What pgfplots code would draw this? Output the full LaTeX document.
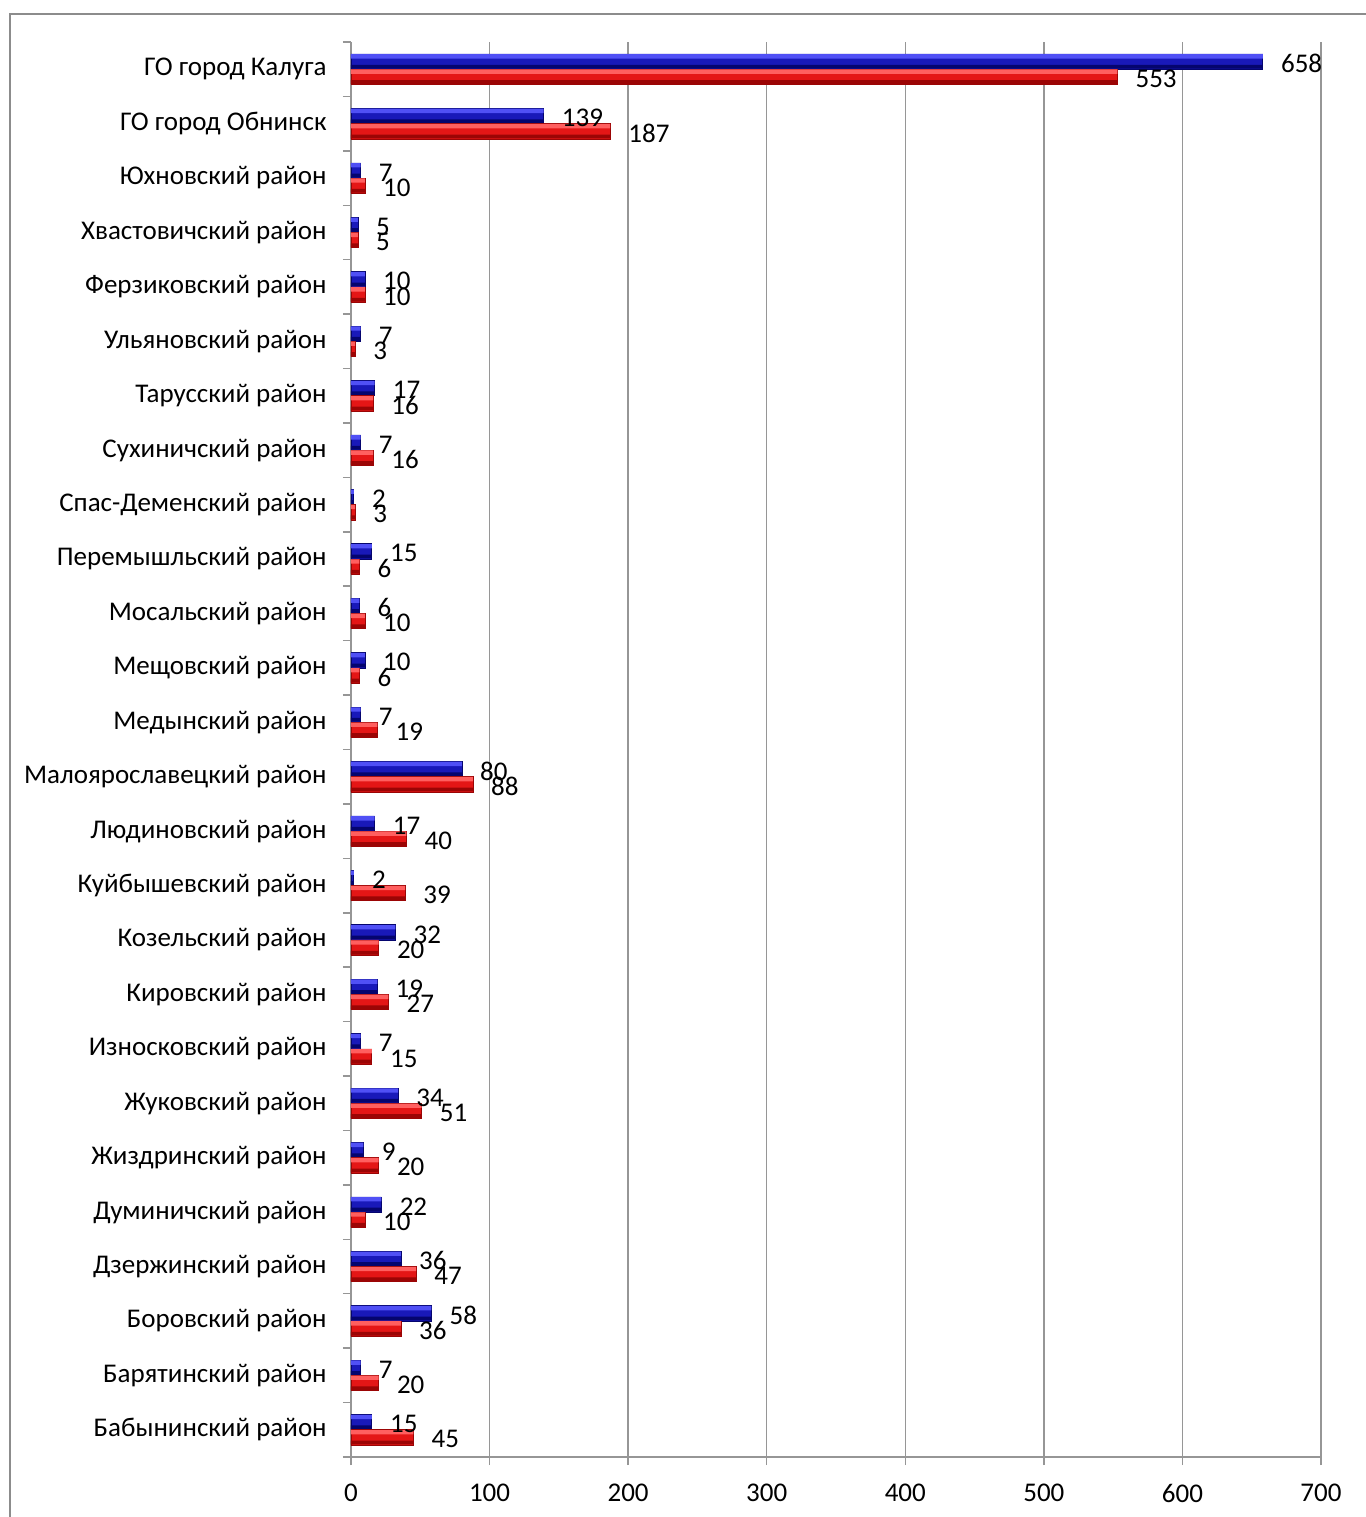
\documentclass[border=0pt]{standalone}
\usepackage{pgfplots}
\pgfplotsset{compat=1.18}
\usepackage{fontspec}
\setmainfont{Carlito}
\definecolor{gridgray}{RGB}{150,150,150}
\definecolor{frame}{RGB}{140,140,140}
\definecolor{bluetop}{RGB}{80,80,245}
\definecolor{bluemid}{RGB}{25,25,185}
\definecolor{bluebot}{RGB}{5,5,110}
\definecolor{redtop}{RGB}{255,95,95}
\definecolor{redmid}{RGB}{228,22,22}
\definecolor{redbot}{RGB}{155,5,5}

% values, bottom (Бабынинский) to top (Калуга)
\def\bluedata{(15,0) (7,1) (58,2) (36,3) (22,4) (9,5) (34,6) (7,7) (19,8) (32,9) (2,10) (17,11) (80,12) (7,13) (10,14) (6,15) (15,16) (2,17) (7,18) (17,19) (7,20) (10,21) (5,22) (7,23) (139,24) (658,25)}
\def\reddata{(45,0) (20,1) (36,2) (47,3) (10,4) (20,5) (51,6) (15,7) (27,8) (20,9) (39,10) (40,11) (88,12) (19,13) (6,14) (10,15) (6,16) (3,17) (16,18) (16,19) (3,20) (10,21) (5,22) (10,23) (187,24) (553,25)}

\begin{document}
\begin{tikzpicture}
\fontsize{13.5pt}{16pt}\selectfont
\begin{axis}[
    xbar,
    scale only axis,
    width=485pt, height=707.5pt,
    xmin=0, xmax=700,
    ymin=-0.5, ymax=25.5,
    bar width=0.28,
    xtick={0,100,...,700},
    ytick={0,...,25},
    minor ytick={-0.5,0.5,...,25.5},
    yticklabels={Бабынинский район,Барятинский район,Боровский район,Дзержинский район,Думиничский район,Жиздринский район,Жуковский район,Износковский район,Кировский район,Козельский район,Куйбышевский район,Людиновский район,Малоярославецкий район,Медынский район,Мещовский район,Мосальский район,Перемышльский район,Спас-Деменский район,Сухиничский район,Тарусский район,Ульяновский район,Ферзиковский район,Хвастовичский район,Юхновский район,ГО город Обнинск,ГО город Калуга},
    axis x line*=bottom,
    axis y line*=left,
    tick align=outside,
    major tick length=4pt,
    minor tick length=4pt,
    major y tick style={draw=none},
    tick style={gridgray, line width=0.75pt},
    axis line style={gridgray, line width=0.75pt},
    xmajorgrids,
    major grid style={gridgray, line width=0.75pt},
    /pgf/number format/assume math mode=true,
    ticklabel style={font=\fontsize{13.5pt}{16pt}\selectfont},
    yticklabel style={xshift=-3.5pt},
    xticklabel style={yshift=-5pt},
    point meta=x,
    nodes near coords style={anchor=west, xshift=9pt, yshift=-1pt, inner sep=0pt, font=\fontsize{13.5pt}{16pt}\selectfont, text=black},
]
% blue series: body, top highlight, bottom shade
\addplot[bar shift=0.14, draw=bluebot, line width=0.3pt, fill=bluemid, nodes near coords] coordinates {\bluedata};
\addplot[bar shift=0.235, bar width=0.08, draw=none, fill=bluetop] coordinates {\bluedata};
\addplot[bar shift=0.045, bar width=0.07, draw=none, fill=bluebot] coordinates {\bluedata};
% red series: body, top highlight, bottom shade
\addplot[bar shift=-0.14, draw=redbot, line width=0.3pt, fill=redmid, nodes near coords] coordinates {\reddata};
\addplot[bar shift=-0.045, bar width=0.08, draw=none, fill=redtop] coordinates {\reddata};
\addplot[bar shift=-0.235, bar width=0.07, draw=none, fill=redbot] coordinates {\reddata};
\end{axis}
\draw[frame, line width=0.7pt] (-170.5pt,-30pt) -- (-170.5pt,721.5pt) -- (507.5pt,721.5pt);
\pgfresetboundingbox
\path[use as bounding box] (-175.5pt,-30pt) rectangle (507.5pt,728.5pt);
\end{tikzpicture}
\end{document}
